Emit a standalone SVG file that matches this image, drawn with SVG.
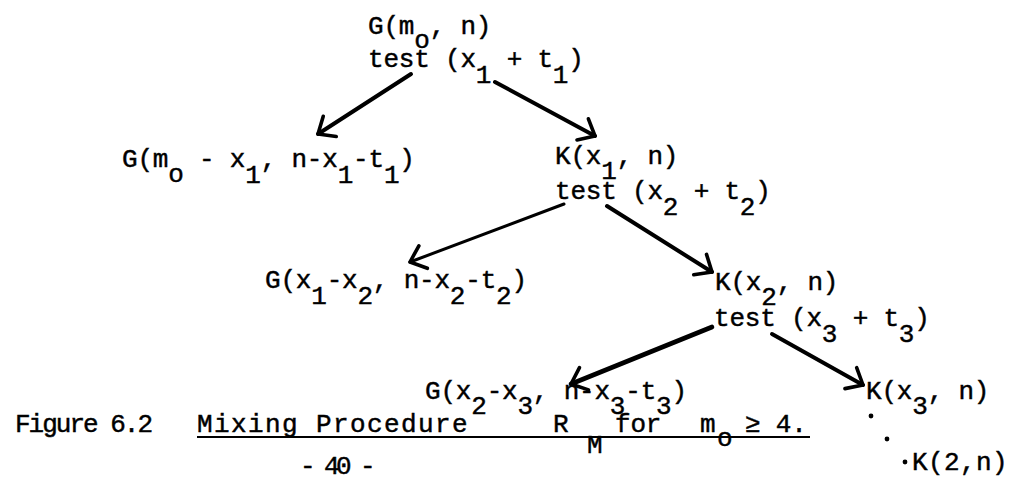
<svg xmlns="http://www.w3.org/2000/svg" width="1019" height="492" viewBox="0 0 1019 492">
<defs>
<style>
text{font-family:"Liberation Mono","DejaVu Sans Mono",monospace;font-size:26px;fill:#000;stroke:#000;stroke-width:0.45;letter-spacing:-0.2px}
.a{stroke:#000;fill:none;stroke-linecap:round;stroke-linejoin:round}
.t{stroke-width:4}
.m{stroke-width:3}
.w{stroke-width:4.6}
</style>
<marker id="h" viewBox="0 0 24 24" refX="21" refY="12" markerWidth="24" markerHeight="24" orient="auto" markerUnits="userSpaceOnUse" overflow="visible">
<path d="M7,0 L21,12 L7,24" fill="none" stroke="#000" stroke-width="3.6" stroke-linecap="round" stroke-linejoin="round"/>
</marker>
</defs>
<rect width="1019" height="492" fill="#fff"/>
<g id="root">
<text x="368" y="34">G(m<tspan dy="14">o</tspan><tspan dy="-14">, n)</tspan></text>
<text x="368" y="67">test (x<tspan dy="16">1</tspan><tspan dy="-16"> + t</tspan><tspan dy="16">1</tspan><tspan dy="-16">)</tspan></text>
</g>
<g id="g1">
<text x="122" y="167">G(m<tspan dy="15">o</tspan><tspan dy="-15"> - x</tspan><tspan dy="16">1</tspan><tspan dy="-16">, n-x</tspan><tspan dy="16">1</tspan><tspan dy="-16">-t</tspan><tspan dy="16">1</tspan><tspan dy="-16">)</tspan></text>
</g>
<g id="k1">
<text x="555" y="164">K(x<tspan dy="15">1</tspan><tspan dy="-15">, n)</tspan></text>
<text x="555" y="199">test (x<tspan dy="16">2</tspan><tspan dy="-16"> + t</tspan><tspan dy="16">2</tspan><tspan dy="-16">)</tspan></text>
</g>
<g id="g2">
<text x="265" y="288">G(x<tspan dy="16">1</tspan><tspan dy="-16">-x</tspan><tspan dy="16">2</tspan><tspan dy="-16">, n-x</tspan><tspan dy="16">2</tspan><tspan dy="-16">-t</tspan><tspan dy="16">2</tspan><tspan dy="-16">)</tspan></text>
</g>
<g id="k2">
<text x="715" y="290">K(x<tspan dy="15">2</tspan><tspan dy="-15">, n)</tspan></text>
<text x="714" y="326">test (x<tspan dy="16">3</tspan><tspan dy="-16"> + t</tspan><tspan dy="16">3</tspan><tspan dy="-16">)</tspan></text>
</g>
<g id="g3">
<text x="425" y="399">G(x<tspan dy="15">2</tspan><tspan dy="-15">-x</tspan><tspan dy="15">3</tspan><tspan dy="-15">, n-x</tspan><tspan dy="15">3</tspan><tspan dy="-15">-t</tspan><tspan dy="15">3</tspan><tspan dy="-15">)</tspan></text>
</g>
<g id="k3">
<text x="866" y="399">K(x<tspan dy="15">3</tspan><tspan dy="-15">, n)</tspan></text>
</g>
<g id="dots">
<circle cx="871" cy="416" r="2.4"/>
<circle cx="887" cy="439" r="2.4"/>
<circle cx="905" cy="462" r="2.4"/>
</g>
<g id="k4">
<text x="912" y="470" style="letter-spacing:0.4px">K(2,n)</text>
</g>
<g id="connectors">
<line class="a t" x1="411" y1="74" x2="318" y2="134" marker-end="url(#h)"/>
<line class="a t" x1="495" y1="82" x2="595" y2="136" marker-end="url(#h)"/>
<line class="a m" x1="564" y1="204" x2="410" y2="262" marker-end="url(#h)"/>
<line class="a t" x1="607" y1="206" x2="712" y2="272" marker-end="url(#h)"/>
<line class="a w" x1="712" y1="327" x2="571" y2="384" marker-end="url(#h)"/>
<line class="a t" x1="772" y1="334" x2="863" y2="385" marker-end="url(#h)"/>
</g>
<g id="caption">
<text x="15" y="432" style="letter-spacing:-2px">Figure 6.2</text>
<text x="197" y="432" style="letter-spacing:1.4px">Mixing Procedure</text>
<text x="553" y="432">R</text>
<text x="587" y="453">M</text>
<text x="615" y="432">for</text>
<text x="700" y="432">m</text>
<text x="717" y="446">o</text>
<text x="745" y="432">≥ 4.</text>
<line x1="197" y1="437" x2="810" y2="437" stroke="#000" stroke-width="1.8"/>
<text x="300" y="474" style="letter-spacing:-3.6px">- 40 -</text>
</g>
</svg>
